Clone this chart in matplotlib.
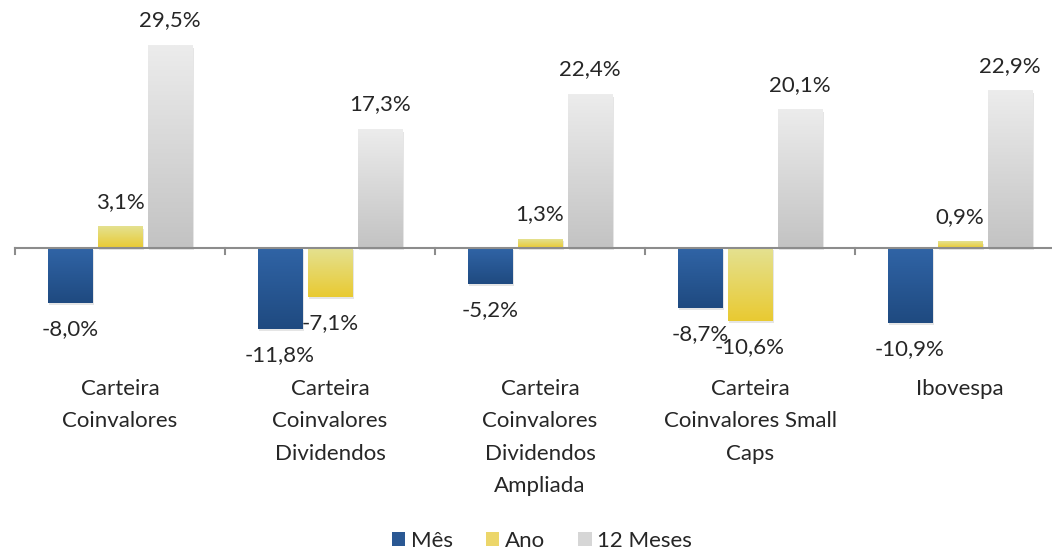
import matplotlib
matplotlib.use("Agg")
import matplotlib.pyplot as plt
import numpy as np
from matplotlib.colors import LinearSegmentedColormap
from matplotlib.patches import Rectangle

categories = ["Carteira\nCoinvalores", "Carteira\nCoinvalores\nDividendos",
              "Carteira\nCoinvalores\nDividendos\nAmpliada",
              "Carteira\nCoinvalores Small\nCaps", "Ibovespa"]
series_names = ["Mês", "Ano", "12 Meses"]
mes = [-8.0, -11.8, -5.2, -8.7, -10.9]
ano = [3.1, -7.1, 1.3, -10.6, 0.9]
meses12 = [29.5, 17.3, 22.4, 20.1, 22.9]

series = [mes, ano, meses12]
grads = [("#3064a6", "#1f4a80"), ("#e4e190", "#e9ca32"), ("#ececec", "#c3c3c3")]
legend_cols = ["#2a5893", "#ecd66a", "#d6d6d6"]

plt.rcParams["font.family"] = ["Lato", "DejaVu Sans"]
W, H = 1052, 552
fig = plt.figure(figsize=(W / 100, H / 100), dpi=100)
ymin, ymax = -15, 32
ppx = 6.87
y0px = 248
top_px = y0px - ymax * ppx
bot_px = y0px - ymin * ppx
xl_px, catw_px = 15, 210
n = len(categories)
ax = fig.add_axes([xl_px / W, (H - bot_px) / H, n * catw_px / W, (bot_px - top_px) / H])
ax.axis("off")

bw = 0.214
gap = 0.024
txtc = "#262626"
for si, vals in enumerate(series):
    cmap = LinearSegmentedColormap.from_list("g%d" % si, [grads[si][0], grads[si][1]])
    for ci, v in enumerate(vals):
        x0 = ci + 0.5 + (si - 1) * (bw + gap) - bw / 2
        lo, hi = min(0, v), max(0, v)
        ax.add_patch(Rectangle((x0 + 0.008, lo - 0.35), bw, hi - lo, facecolor="#000000",
                               alpha=0.10, lw=0, zorder=1))
        grad = np.linspace(0, 1, 100).reshape(-1, 1)
        ax.imshow(grad, cmap=cmap, extent=(x0, x0 + bw, lo, hi), origin="upper",
                  aspect="auto", zorder=2, interpolation="bilinear")
        label = ("%.1f%%" % v).replace(".", ",")
        off = 3.65 if v >= 0 else -3.8
        ax.text(x0 + bw / 2, v + off, label, ha="center", va="center",
                fontsize=16, color=txtc, zorder=4)

ax.set_xlim(0, n)
ax.set_ylim(ymin, ymax)
ax.plot([0, n], [0, 0], color="#8c8c8c", lw=1.5, zorder=3, clip_on=False)
for b in range(n + 1):
    ax.plot([b, b], [0, -0.9], color="#8c8c8c", lw=1.5, zorder=3, clip_on=False)

for ci, cat in enumerate(categories):
    fig.text((xl_px + (ci + 0.5) * catw_px) / W, 1 - 379 / H, cat, ha="center", va="top",
             fontsize=16, color=txtc, linespacing=1.77)

handles = [Rectangle((0, 0), 1, 1, facecolor=c, lw=0) for c in legend_cols]
fig.legend(handles, series_names, loc="center", bbox_to_anchor=(0.515, 1 - 541 / H),
           ncol=3, frameon=False, fontsize=16, handlelength=0.6, handleheight=0.6,
           handletextpad=0.25, columnspacing=1.5, labelcolor=txtc)

fig.savefig("out.png", dpi=100)
